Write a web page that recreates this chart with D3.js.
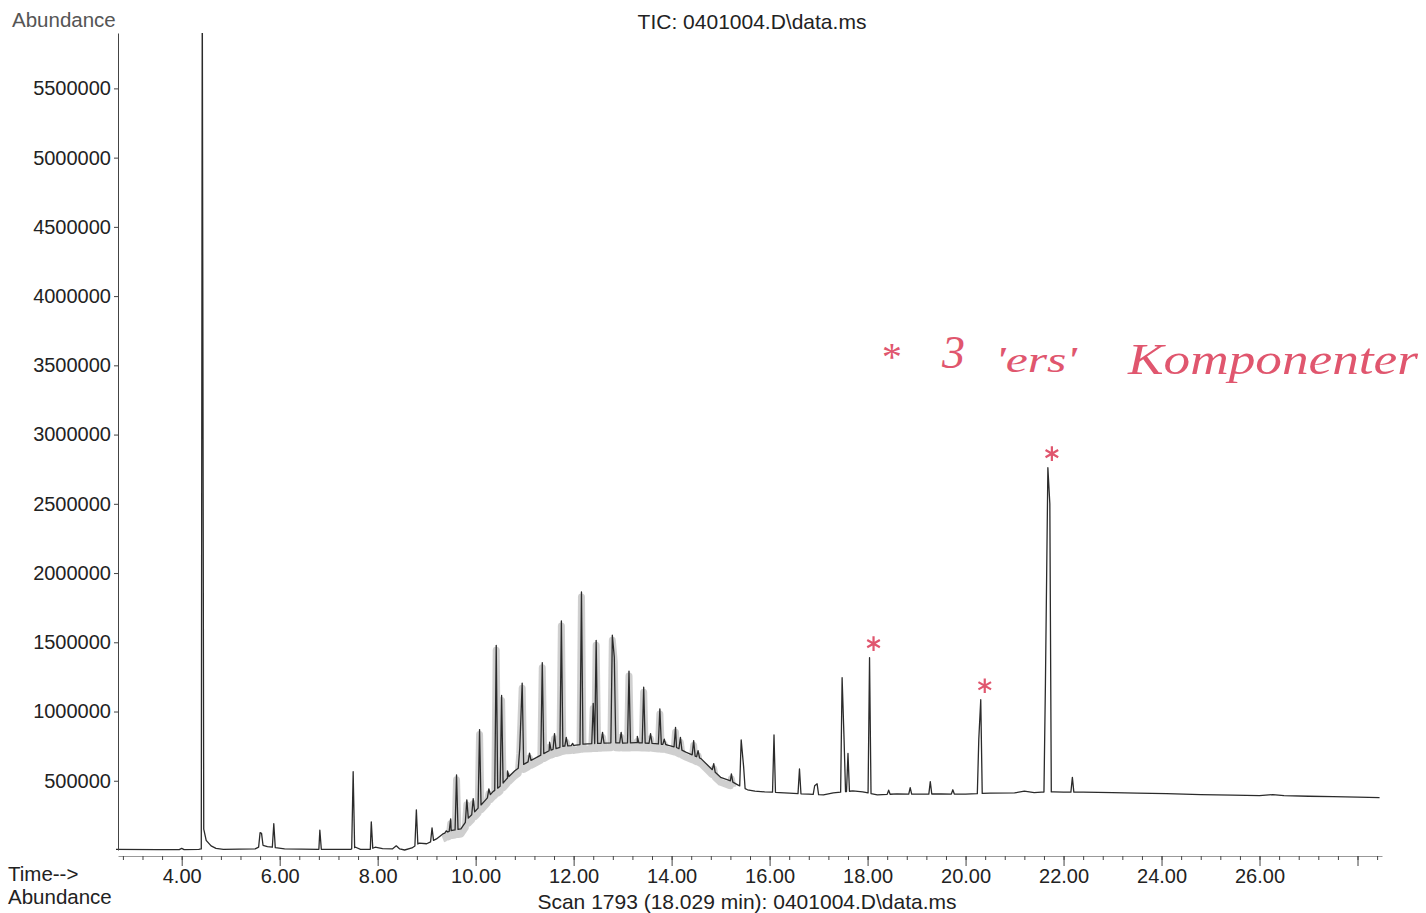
<!DOCTYPE html>
<html>
<head>
<meta charset="utf-8">
<script src="https://cdn.jsdelivr.net/npm/d3@7"></script>
<style>
  body { margin: 0; background: #fff; }
  text { font-family: "Liberation Sans", Arial, sans-serif; fill: #222; }
  .axis text { font-size: 20px; }
  .axis path, .axis line { stroke: #444; }
  .xAxis path { stroke: #999; }
  .note { font-family: "Liberation Serif", serif; font-style: italic; fill: #e0566e; }
</style>
</head>
<body>
<div id="chart"></div>
<script>
// baseline of the TIC trace (min, abundance)
const baseTimes = [2.65, 3.5, 3.95, 4.0, 4.05, 4.35, 4.40, 4.45, 4.5, 4.6, 4.7, 4.85,
    5.5, 5.65, 5.75, 5.95, 6.1, 6.8, 7.45, 7.55, 7.65, 7.85, 7.95, 8.1, 8.3, 8.38, 8.45,
    8.55, 8.7, 8.85, 9.0, 9.2, 9.33, 9.5, 9.7, 9.85, 10.0, 10.2, 10.35, 10.5, 10.65, 10.8,
    11.0, 11.2, 11.5, 11.8, 12.0, 12.2, 12.5, 12.8, 13.0, 13.3, 13.6, 13.9, 14.1, 14.3,
    14.6, 14.8, 15.0, 15.2, 15.35, 15.55, 15.7, 15.9, 16.2, 16.4, 16.8, 17.1, 17.3, 17.7,
    17.9, 18.2, 18.6, 19.0, 19.5, 20.0, 20.5, 21.0, 21.2, 21.4, 21.55, 21.8, 22.0, 22.4,
    23.0, 23.5, 24.1, 24.8, 25.45, 26.0, 26.27, 26.5, 27.0, 27.5, 28.0, 28.45];
const baseValues = [5000, 3000, 3000, 12000, 3000, 5000, 8000, 150000, 70000, 30000, 12000, 5000,
    8000, 35000, 25000, 15000, 8000, 5000, 5000, 20000, 5000, 5000, 20000, 10000, 8000, 30000, 8000,
    0, 15000, 50000, 45000, 80000, 116000, 140000, 152000, 230000, 283000, 360000, 420000, 460000, 520000, 572000,
    623000, 660000, 717000, 750000, 755000, 765000, 770000, 775000, 772000, 775000, 770000, 760000, 740000, 705000,
    660000, 590000, 525000, 500000, 470000, 435000, 425000, 420000, 415000, 410000, 403000, 398000, 412000, 427000,
    420000, 398000, 405000, 403000, 405000, 403000, 411000, 412000, 425000, 415000, 418000, 420000, 418000, 418000,
    415000, 410000, 407000, 400000, 396000, 393000, 400000, 392000, 388000, 385000, 382000, 378000];

// peak apexes (min, abundance)
const peakTimes = [4.42, 5.60, 5.63, 5.88, 6.82, 7.50, 7.87, 8.79, 9.11, 9.40, 9.49, 9.61,
    9.82, 9.95, 10.08, 10.27, 10.42, 10.53, 10.65, 10.90, 10.95, 11.10, 11.36, 11.51, 11.61,
    11.75, 11.85, 11.98, 12.16, 12.40, 12.46, 12.59, 12.79, 12.83, 12.97, 13.13, 13.30, 13.43,
    13.57, 13.76, 13.85, 14.08, 14.18, 14.45, 14.54, 14.86, 15.22, 15.42, 15.47, 16.09, 16.61,
    16.92, 16.97, 17.48, 17.52, 17.60, 18.04, 18.43, 18.87, 19.28, 19.74, 20.27, 20.31, 21.63, 21.68,
    21.72, 22.18];
const peakValues = [6300000, 125000, 120000, 190000, 143000, 565000, 203000, 290000, 160000, 138000, 225000, 543000,
    362000, 370000, 870000, 442000, 1478000, 1116000, 572000, 732000, 1205000, 700000, 1353000, 778000, 840000,
    1654000, 814000, 770000, 1864000, 1058000, 1514000, 850000, 1551000, 1393000, 850000, 1292000, 820000, 1176000,
    840000, 1019000, 800000, 886000, 814000, 790000, 717000, 623000, 550000, 795000, 600000, 831000, 585000,
    464000, 478000, 1244000, 800000, 697000, 1389000, 432000, 451000, 494000, 435000, 800000, 1085000, 1200000, 2761000,
    2500000, 524000];

// marked components (the red stars)
const starTimes = [18.04, 20.31, 21.68];
const starValues = [1389000, 1085000, 2761000];

const yTicks = [500000, 1000000, 1500000, 2000000, 2500000, 3000000, 3500000, 4000000, 4500000, 5000000, 5500000];
const xMajor = [4, 6, 8, 10, 12, 14, 16, 18, 20, 22, 24, 26, 28];
const xMinor = d3.range(2.8, 28.6, 0.4);

const width = 1426, height = 913;
const svg = d3.select("#chart").append("svg")
    .attr("width", width)
    .attr("height", height);

const x = d3.scaleLinear().domain([2.7, 28.5]).range([118, 1382]);
const y = d3.scaleLinear().domain([0, 5900000]).range([850, 33]);
const baseline = d3.scaleLinear().domain(baseTimes).range(baseValues);

// build the trace: baseline points plus a narrow spike per peak,
// peaks closer than two half widths share one foot
const hw = 0.03;
let pts = baseTimes.map((t, i) => [t, baseValues[i]])
    .filter(p => !peakTimes.some((t, i) => {
        const near = peakTimes.filter(u => Math.abs(u - t) < 2 * hw).length > 1;
        return near && Math.abs(p[0] - t) < 2 * hw;
    }));
peakTimes.forEach((t, i) => {
    if (i == 0 || t - peakTimes[i - 1] > 2 * hw) pts.push([t - hw, baseline(t - hw)]);
    pts.push([t, peakValues[i]]);
    if (i == peakTimes.length - 1 || peakTimes[i + 1] - t > 2 * hw) pts.push([t + hw, baseline(t + hw)]);
});
pts.sort((a, b) => a[0] - b[0]);

svg.append("clipPath").attr("id", "plot")
    .append("rect")
    .attr("x", 116).attr("y", 33)
    .attr("width", 1270).attr("height", 820);

const line = d3.line().x(d => x(d[0])).y(d => y(d[1]));

// grey noise band under the hump
svg.append("path")
    .datum(pts.filter(d => d[0] > 9.2 && d[0] < 15.3))
    .attr("clip-path", "url(#plot)")
    .attr("transform", "translate(0,5)")
    .attr("d", line)
    .style("fill", "none")
    .style("stroke", "#a8a8a8")
    .style("stroke-width", 7)
    .style("stroke-opacity", 0.55)
    .style("stroke-linejoin", "round");

svg.append("path")
    .datum(pts)
    .attr("clip-path", "url(#plot)")
    .attr("d", line)
    .style("fill", "none")
    .style("stroke", "#2b2b2b")
    .style("stroke-width", 1.3)
    .style("stroke-linejoin", "round");

// axes
svg.append("g")
    .attr("class", "axis yAxis")
    .attr("transform", "translate(118,0)")
    .call(d3.axisLeft(y).tickValues(yTicks).tickSize(4).tickSizeOuter(0).tickFormat(d => d));

svg.append("g")
    .attr("class", "axis xAxis")
    .attr("transform", "translate(0,856)")
    .call(d3.axisBottom(x).tickValues(xMinor).tickSize(4).tickSizeOuter(0).tickFormat(""));

svg.append("g")
    .attr("class", "axis xAxis")
    .attr("transform", "translate(0,856)")
    .call(d3.axisBottom(x).tickValues(xMajor).tickSize(10).tickSizeOuter(0)
        .tickFormat(d => d == 28 ? "" : d3.format(".2f")(d)))
    .select(".domain").remove();

// texts
svg.append("text").attr("x", 12).attr("y", 27)
    .style("font-size", "20.5px").style("fill", "#555").text("Abundance");
svg.append("text").attr("x", 752).attr("y", 29).attr("text-anchor", "middle")
    .style("font-size", "21px").text("TIC: 0401004.D\\data.ms");
svg.append("text").attr("x", 8).attr("y", 881)
    .style("font-size", "20.5px").text("Time-->");
svg.append("text").attr("x", 8).attr("y", 904)
    .style("font-size", "20.5px").text("Abundance");
svg.append("text").attr("x", 747).attr("y", 909).attr("text-anchor", "middle")
    .style("font-size", "21px").text("Scan 1793 (18.029 min): 0401004.D\\data.ms");

// red handwritten note
svg.append("text").attr("class", "note").attr("x", 880).attr("y", 370)
    .style("font-size", "40px").text("*");
svg.append("text").attr("class", "note").attr("x", 942).attr("y", 368)
    .style("font-size", "46px").text("3");
svg.append("text").attr("class", "note").attr("x", 995).attr("y", 372)
    .attr("textLength", 82).attr("lengthAdjust", "spacingAndGlyphs")
    .style("font-size", "36px").text("'ers'");
svg.append("text").attr("class", "note").attr("x", 1128).attr("y", 374)
    .attr("textLength", 290).attr("lengthAdjust", "spacingAndGlyphs")
    .style("font-size", "44px").text("Komponenter");

svg.selectAll("path.star")
    .data(starTimes)
    .enter()
    .append("path")
    .attr("class", "star")
    .attr("transform", (d, i) => `translate(${x(d) + 4},${y(starValues[i]) - 14})`)
    .attr("d", d3.symbol(d3.symbolAsterisk, 150))
    .style("fill", "none")
    .style("stroke", "#e0566e")
    .style("stroke-width", 2.2);
</script>
</body>
</html>
